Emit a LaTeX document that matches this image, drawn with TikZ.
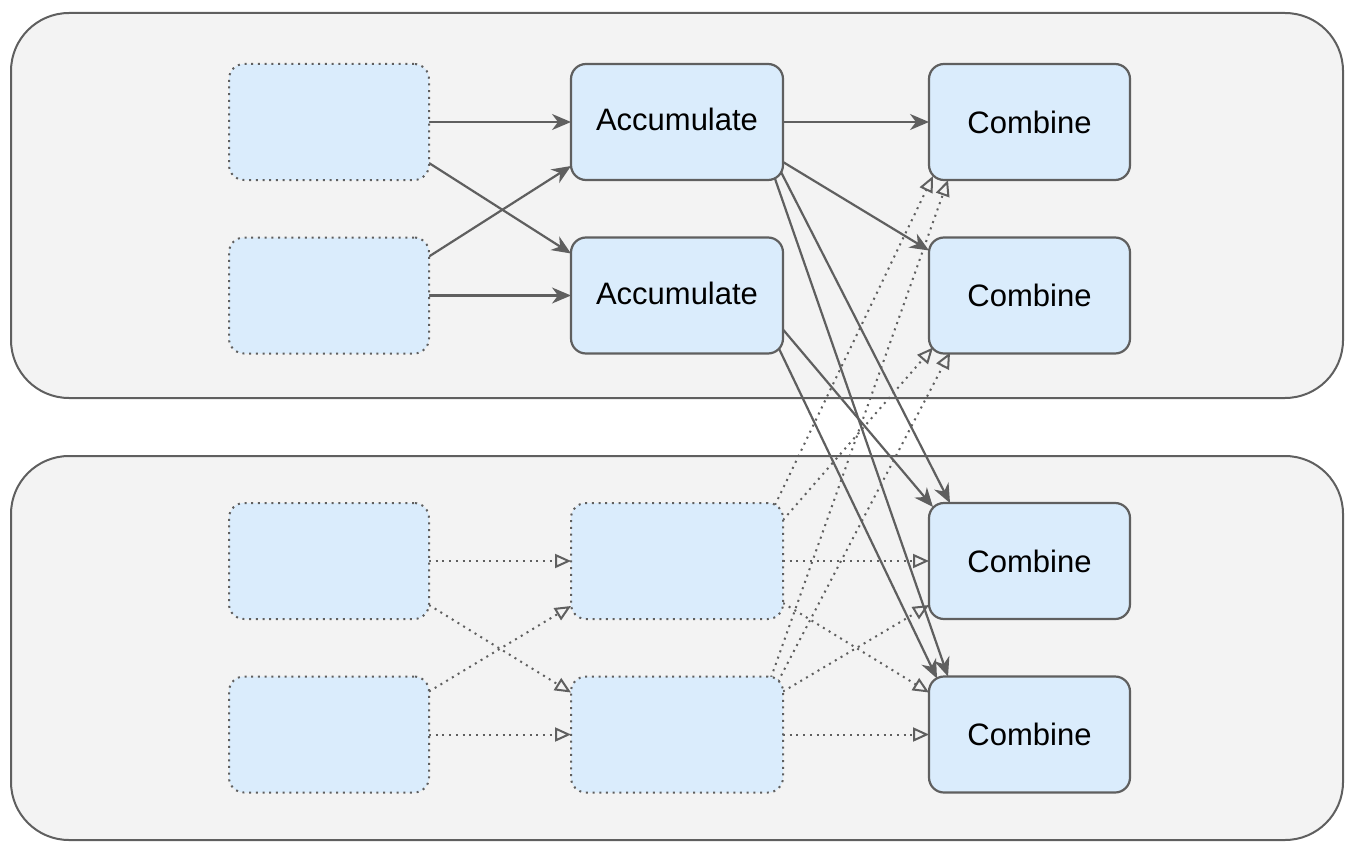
\documentclass[tikz,border=0pt]{standalone}
\usepackage{fontspec}
\setmainfont{Liberation Sans}
\usetikzlibrary{arrows.meta,calc}
\pgfdeclarelayer{back}
\pgfdeclarelayer{edges}
\pgfsetlayers{back,edges,main}
\definecolor{bordergray}{HTML}{5F5F5F}
\definecolor{boxblue}{RGB}{218,236,252}
\definecolor{panelgray}{HTML}{F3F3F3}
\begin{document}
\begin{tikzpicture}[x=1pt,y=-1pt,
 panel/.style={draw=bordergray, fill=panelgray, line width=2pt, rounded corners=58pt},
 boxbase/.style={fill=boxblue, rounded corners=15pt, inner sep=0pt, outer sep=0pt,
   minimum height=116pt, font=\fontsize{31}{36}\selectfont},
 solidbox/.style={boxbase, draw=bordergray, line width=2.2pt},
 dotbox/.style={boxbase, draw=bordergray, line width=2pt, dash pattern=on 2pt off 4.7pt},
 sarrow/.style={draw=bordergray, line width=2.2pt, -{Stealth[length=19pt,width=16pt,inset=6pt]}},
 darrow/.style={draw=bordergray, line width=2pt, dash pattern=on 2pt off 4.7pt,
   -{Triangle[open,length=16pt,width=14pt,line width=2pt]}},
]
\useasboundingbox (0,0) rectangle (1354,856);
\begin{pgfonlayer}{back}
\path[panel] (11,13) rectangle (1343,398);
\path[panel] (11,456) rectangle (1343,840);
\end{pgfonlayer}

% nodes
\node[dotbox, minimum width=200pt] (n11) at (329,122) {};
\node[dotbox, minimum width=200pt] (n12) at (329,295.5) {};
\node[solidbox, minimum width=212pt] (a1) at (677,122) {\raisebox{5pt}{Accumulate}};
\node[solidbox, minimum width=212pt] (a2) at (677,295.5) {\raisebox{5pt}{Accumulate}};
\node[solidbox, minimum width=201pt] (c1) at (1029.5,122) {Combine};
\node[solidbox, minimum width=201pt] (c2) at (1029.5,295.5) {Combine};
\node[solidbox, minimum width=201pt] (c3) at (1029.5,561) {Combine};
\node[solidbox, minimum width=201pt] (c4) at (1029.5,734.5) {Combine};
\node[dotbox, minimum width=200pt] (n21) at (329,561) {};
\node[dotbox, minimum width=200pt] (n22) at (329,734.5) {};
\node[dotbox, minimum width=212pt] (b1) at (677,561) {};
\node[dotbox, minimum width=212pt] (b2) at (677,734.5) {};

\begin{pgfonlayer}{edges}
% top section, solid
\draw[sarrow] ($(n11.north west)+(200,58)$) -- ($(a1.north west)+(0,58)$);
\draw[sarrow] ($(n11.north west)+(200,99)$) -- ($(a2.north west)+(0,16)$);
\draw[sarrow] ($(n12.north west)+(200,19)$) -- ($(a1.north west)+(0,102)$);
\draw[sarrow] ($(n12.north west)+(200,58)$) -- ($(a2.north west)+(0,58)$);
\draw[sarrow] ($(a1.north west)+(212,58)$) -- ($(c1.north west)+(0,58)$);
\draw[sarrow] ($(a1.north west)+(212,98)$) -- ($(c2.north west)+(0,13)$);
\draw[sarrow] ($(a1.north west)+(209,106)$) -- ($(c3.north west)+(21,0)$);
\draw[sarrow] ($(a1.north west)+(202,109)$) -- ($(c4.north west)+(19,0)$);
\draw[sarrow] ($(a2.north west)+(212,92)$) -- ($(c3.north west)+(4,4)$);
\draw[sarrow] ($(a2.north west)+(206,107)$) -- ($(c4.north west)+(8,2)$);
% bottom section, dotted
\draw[darrow] ($(n21.north west)+(200,58)$) -- ($(b1.north west)+(0,58)$);
\draw[darrow] ($(n21.north west)+(200,102)$) -- ($(b2.north west)+(0,16)$);
\draw[darrow] ($(n22.north west)+(200,15)$) -- ($(b1.north west)+(0,103)$);
\draw[darrow] ($(n22.north west)+(200,58)$) -- ($(b2.north west)+(0,58)$);
\draw[darrow] ($(b1.north west)+(212,58)$) -- ($(c3.north west)+(0,58)$);
\draw[darrow] ($(b1.north west)+(212,100)$) -- ($(c4.north west)+(0,16)$);
\draw[darrow] ($(b2.north west)+(212,15)$) -- ($(c3.north west)+(0,102)$);
\draw[darrow] ($(b2.north west)+(212,58)$) -- ($(c4.north west)+(0,58)$);
\draw[darrow] ($(b1.north west)+(204,2)$) -- ($(c1.north west)+(4,112)$);
\draw[darrow] ($(b1.north west)+(212,17)$) -- ($(c2.north west)+(4,110)$);
\draw[darrow] ($(b2.north west)+(200,1)$) -- ($(c1.north west)+(19,116)$);
\draw[darrow] ($(b2.north west)+(207,5)$) -- ($(c2.north west)+(21,115)$);
\end{pgfonlayer}
\end{tikzpicture}
\end{document}
